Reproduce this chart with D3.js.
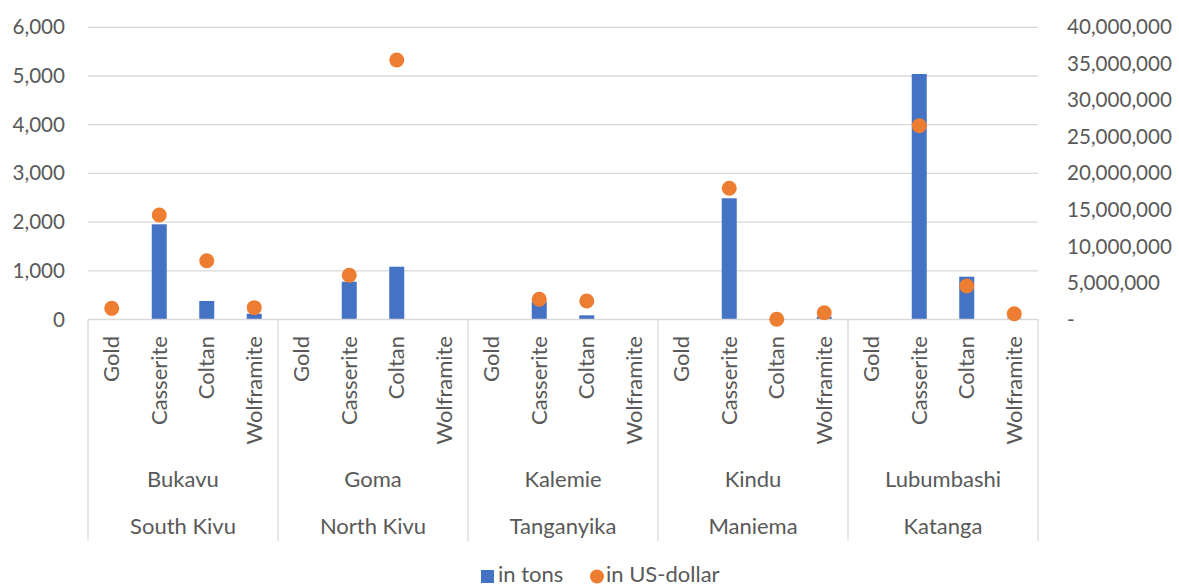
<!DOCTYPE html>
<html>
<head>
<meta charset="utf-8">
<script src="https://cdn.jsdelivr.net/npm/d3@7"></script>
<style>
  html, body { margin: 0; padding: 0; background: #fff; }
  svg { display: block; font-family: Lato, "Open Sans", sans-serif; }
</style>
</head>
<body>
<svg id="chart" width="1179" height="586"></svg>
<script>
// ---- data ----
const provinces = ["South Kivu", "North Kivu", "Tanganyika", "Maniema", "Katanga"];
const cities = ["Bukavu", "Goma", "Kalemie", "Kindu", "Lubumbashi"];
const minerals = ["Gold", "Casserite", "Coltan", "Wolframite"];
// in tons, per province, in mineral order
const tons = [
  [0, 1955, 380, 119],
  [0, 776, 1084, 0],
  [0, 366, 86, 0],
  [0, 2489, 0, 57],
  [0, 5041, 879, 20]
];
// in US-dollar, per province, in mineral order (null = no marker)
const usd = [
  [1530000, 14300000, 8050000, 1620000],
  [null, 6050000, 35520000, null],
  [null, 2770000, 2530000, null],
  [null, 17960000, 30000, 930000],
  [null, 26530000, 4590000, 790000]
];
const leftTicks = [0, 1000, 2000, 3000, 4000, 5000, 6000];
const rightTicks = [0, 5000000, 10000000, 15000000, 20000000, 25000000, 30000000, 35000000, 40000000];
const seriesNames = ["in tons", "in US-dollar"];

// ---- layout ----
const svg = d3.select("#chart");
const L = 88, R = 1038, T = 27.3, B = 319.5;
const textColor = "#595959", gridColor = "#D9D9D9";
const blue = "#4472C4", orange = "#ED7D31";
const numSize = 20.6, labelSize = 22;

const rows = [];
provinces.forEach((p, gi) => minerals.forEach((m, mi) => {
  rows.push({ key: p + "|" + m, group: gi, mineral: m, tons: tons[gi][mi], usd: usd[gi][mi] });
}));

const x = d3.scaleBand().domain(rows.map(d => d.key)).range([L, R])
  .paddingInner(0.684).paddingOuter(0.342);
const yL = d3.scaleLinear().domain([0, 6000]).range([B, T]);
const yR = d3.scaleLinear().domain([0, 40000000]).range([B, T]);

// gridlines
svg.append("g").selectAll("line").data(leftTicks.filter(t => t > 0)).join("line")
  .attr("x1", L).attr("x2", R)
  .attr("y1", d => yL(d)).attr("y2", d => yL(d))
  .attr("stroke", gridColor).attr("stroke-width", 1.3);

// left axis labels
const fmt = d3.format(",");
const leftAxis = d3.axisLeft(yL).tickValues(leftTicks).tickFormat(fmt).tickSize(0).tickPadding(23);
const gL = svg.append("g").attr("transform", `translate(${L},0)`).call(leftAxis);
gL.select(".domain").remove();
gL.selectAll("text").attr("fill", textColor).style("font-size", numSize + "px").style("font-family", "Lato");

// right axis labels
const rightAxis = d3.axisRight(yR).tickValues(rightTicks)
  .tickFormat(d => d === 0 ? "-" : fmt(d)).tickSize(0).tickPadding(29);
const gR = svg.append("g").attr("transform", `translate(${R},0)`).call(rightAxis);
gR.select(".domain").remove();
gR.selectAll("text").attr("fill", textColor).style("font-size", numSize + "px").style("font-family", "Lato");

// bars
svg.append("g").selectAll("rect").data(rows.filter(d => d.tons > 0)).join("rect")
  .attr("x", d => x(d.key)).attr("width", x.bandwidth())
  .attr("y", d => yL(d.tons)).attr("height", d => yL(0) - yL(d.tons))
  .attr("fill", blue);

// baseline
svg.append("line").attr("x1", L).attr("x2", R).attr("y1", B).attr("y2", B)
  .attr("stroke", gridColor).attr("stroke-width", 1.3);

// category axis separators
const step = x.step();
const sepX = d3.range(provinces.length + 1).map(i => L + i * minerals.length * step);
svg.append("g").selectAll("line").data(sepX).join("line")
  .attr("x1", d => d).attr("x2", d => d).attr("y1", B).attr("y2", 541)
  .attr("stroke", gridColor).attr("stroke-width", 1.3);

// mineral labels (rotated)
svg.append("g").selectAll("text").data(rows).join("text")
  .attr("transform", d => `translate(${x(d.key) + x.bandwidth() / 2},336) rotate(-90)`)
  .attr("text-anchor", "end").attr("dy", "0.35em")
  .attr("fill", textColor).style("font-size", labelSize + "px")
  .text(d => d.mineral);

// city and province labels
const groupCenters = provinces.map((p, i) => (sepX[i] + sepX[i + 1]) / 2);
svg.append("g").selectAll("text").data(cities).join("text")
  .attr("x", (d, i) => groupCenters[i]).attr("y", 479).attr("dy", "0.35em")
  .attr("text-anchor", "middle").attr("fill", textColor).style("font-size", labelSize + "px")
  .text(d => d);
svg.append("g").selectAll("text").data(provinces).join("text")
  .attr("x", (d, i) => groupCenters[i]).attr("y", 526).attr("dy", "0.35em")
  .attr("text-anchor", "middle").attr("fill", textColor).style("font-size", labelSize + "px")
  .text(d => d);

// dots
svg.append("g").selectAll("circle").data(rows.filter(d => d.usd !== null)).join("circle")
  .attr("cx", d => x(d.key) + x.bandwidth() / 2).attr("cy", d => yR(d.usd))
  .attr("r", 7.5).attr("fill", orange);

// legend
const lg = svg.append("g");
lg.append("rect").attr("x", 481).attr("y", 570).attr("width", 13).attr("height", 13).attr("fill", blue);
lg.append("text").attr("x", 498).attr("y", 582).attr("fill", textColor)
  .style("font-size", labelSize + "px").text(seriesNames[0]);
lg.append("circle").attr("cx", 597).attr("cy", 576.5).attr("r", 7).attr("fill", orange);
lg.append("text").attr("x", 606).attr("y", 582).attr("fill", textColor)
  .style("font-size", labelSize + "px").text(seriesNames[1]);
</script>
</body>
</html>
